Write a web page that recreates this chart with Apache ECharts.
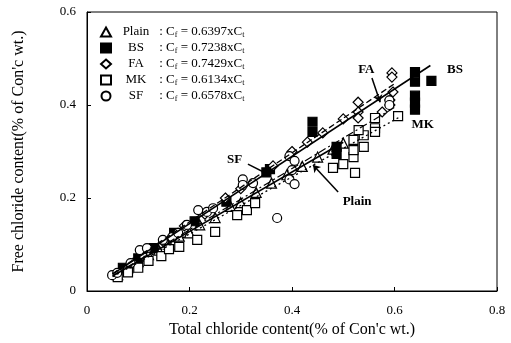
<!DOCTYPE html>
<html><head><meta charset="utf-8">
<script src="https://cdn.jsdelivr.net/npm/echarts@6/dist/echarts.min.js"></script>
<style>html,body{margin:0;padding:0;background:#fff}#c{width:511px;height:343px}</style>
</head><body><div id="c"></div>
<script>
const seriesNames = ['Plain', 'BS', 'FA', 'MK', 'SF'];
const coefs = [0.6397, 0.7238, 0.7429, 0.6134, 0.6578];
const fitRange = [[0.05, 0.5], [0.05, 0.67], [0.05, 0.6], [0.05, 0.61], [0.05, 0.6]];
const xTicks = [0, 0.2, 0.4, 0.6, 0.8];
const yTicks = [0, 0.2, 0.4, 0.6];

const plainData = [[0.06,0.035],[0.08,0.05],[0.1,0.063],[0.12,0.078],[0.14,0.088],[0.16,0.1],[0.18,0.118],[0.2,0.125],[0.22,0.142],[0.25,0.158],[0.28,0.182],[0.3,0.19],[0.33,0.212],[0.36,0.232],[0.39,0.25],[0.42,0.268],[0.45,0.288],[0.48,0.305],[0.5,0.318]];
const bsData = [[0.07,0.05],[0.1,0.07],[0.13,0.092],[0.17,0.125],[0.21,0.15],[0.272,0.192],[0.35,0.255],[0.357,0.262],[0.44,0.364],[0.44,0.342],[0.487,0.31],[0.487,0.295],[0.64,0.471],[0.64,0.45],[0.64,0.42],[0.64,0.405],[0.64,0.39],[0.672,0.452]];
const faData = [[0.055,0.032],[0.075,0.045],[0.09,0.06],[0.11,0.075],[0.15,0.105],[0.19,0.14],[0.23,0.165],[0.27,0.2],[0.3,0.22],[0.363,0.269],[0.4,0.3],[0.43,0.32],[0.46,0.34],[0.5,0.37],[0.529,0.406],[0.529,0.385],[0.529,0.372],[0.576,0.385],[0.591,0.411],[0.591,0.4],[0.597,0.428],[0.595,0.469],[0.595,0.46]];
const mkData = [[0.06,0.03],[0.08,0.04],[0.1,0.05],[0.12,0.065],[0.145,0.075],[0.16,0.09],[0.18,0.095],[0.215,0.11],[0.25,0.127],[0.293,0.163],[0.312,0.174],[0.328,0.189],[0.48,0.265],[0.5,0.273],[0.523,0.254],[0.52,0.288],[0.52,0.303],[0.54,0.31],[0.52,0.325],[0.54,0.335],[0.53,0.346],[0.562,0.372],[0.562,0.35],[0.562,0.342],[0.607,0.376]];
const sfData = [[0.049,0.034],[0.059,0.039],[0.085,0.06],[0.103,0.088],[0.117,0.092],[0.148,0.11],[0.166,0.116],[0.178,0.125],[0.195,0.142],[0.217,0.174],[0.234,0.17],[0.246,0.178],[0.304,0.24],[0.304,0.228],[0.324,0.232],[0.371,0.157],[0.395,0.29],[0.405,0.28],[0.395,0.24],[0.405,0.23],[0.4,0.26],[0.59,0.41],[0.59,0.4]];

const datasets = [plainData, bsData, faData, mkData, sfData];
const symbols = ['triangle', 'rect', 'diamond', 'rect', 'circle'];
const fills = ['#fff', '#000', '#fff', '#fff', '#fff'];
const sizes = [10, 9, 10, 9, 9];
const lineTypes = ['solid', 'solid', [6, 3], [2, 3], [8, 3, 2, 3]];
const lineWidths = [1.6, 1.6, 1.3, 1.3, 1.2];

const labels = [
  {text: 'FA', at: [0.545, 0.475], arrow: [[0.556, 0.458], [0.572, 0.406]]},
  {text: 'SF', at: [0.288, 0.282], arrow: [[0.314, 0.273], [0.357, 0.249]]},
  {text: 'Plain', at: [0.527, 0.192], arrow: [[0.49, 0.213], [0.441, 0.271]]},
  {text: 'BS', at: [0.718, 0.475], arrow: null},
  {text: 'MK', at: [0.655, 0.357], arrow: null}
];

const serif = '"Liberation Serif", "Times New Roman", serif';
const chart = echarts.init(document.getElementById('c'));
const series = [];
seriesNames.forEach((n, i) => {
  series.push({
    name: n, type: 'scatter', data: datasets[i], symbol: symbols[i], symbolSize: sizes[i],
    itemStyle: {color: fills[i], borderColor: '#000', borderWidth: 1.2, opacity: 1},
    z: 3
  });
});
seriesNames.forEach((n, i) => {
  const [a, b] = fitRange[i];
  series.push({
    name: n + ' fit', type: 'line', showSymbol: false, silent: true,
    data: [[a, coefs[i] * a], [b, coefs[i] * b]],
    lineStyle: {color: '#000', width: lineWidths[i], type: lineTypes[i]}, z: 4
  });
});
series.push({
  name: 'annot', type: 'scatter', data: [], silent: true,
  markPoint: {
    symbol: 'circle', symbolSize: 0,
    label: {show: true, color: '#000', fontFamily: serif, fontWeight: 'bold', fontSize: 13, formatter: p => p.name},
    data: labels.map(l => ({name: l.text, coord: l.at}))
  },
  markLine: {
    symbol: ['none', 'arrow'], symbolSize: 7, silent: true, label: {show: false},
    lineStyle: {color: '#000', width: 1.5, type: 'solid'},
    data: labels.filter(l => l.arrow).map(l => [{coord: l.arrow[0]}, {coord: l.arrow[1]}])
  },
  z: 5
});

chart.setOption({
  animation: false,
  backgroundColor: '#fff',
  grid: {left: 87, top: 12, width: 410, height: 279, show: true, borderColor: '#000', borderWidth: 1},
  legend: {
    data: seriesNames, orient: 'vertical', left: 95, top: 20, itemWidth: 10, itemHeight: 9, itemGap: 2,
    textStyle: {fontFamily: serif, fontSize: 13, color: '#000', lineHeight: 14,
      rich: {
        n: {fontFamily: serif, fontSize: 13, width: 40, align: 'center', color: '#000'},
        t: {fontFamily: serif, fontSize: 13, color: '#000'},
        s: {fontFamily: serif, fontSize: 8, color: '#000', verticalAlign: 'bottom', padding: [6, 0, 0, 0]}
      }},
    formatter: name => {
      const k = coefs[seriesNames.indexOf(name)];
      return `{n|${name}}{t| : C}{s|f}{t| = ${k.toFixed(4)}xC}{s|t}`;
    }
  },
  xAxis: {
    type: 'value', min: 0, max: 0.8, interval: 0.2,
    name: "Total chloride content(% of Con'c wt.)", nameLocation: 'middle', nameGap: 29,
    nameTextStyle: {fontFamily: serif, fontSize: 16, color: '#000'},
    axisLine: {show: true, lineStyle: {color: '#000', width: 1}},
    axisTick: {show: true, inside: true, length: 4, lineStyle: {color: '#000'}},
    axisLabel: {fontFamily: serif, fontSize: 13, color: '#000', margin: 13,
      formatter: v => (xTicks.includes(+v.toFixed(1)) ? (v === 0 ? '0' : v.toFixed(1)) : '')},
    splitLine: {show: false}
  },
  yAxis: {
    type: 'value', min: 0, max: 0.6, interval: 0.2,
    name: "Free chloride content(% of Con'c wt.)", nameLocation: 'middle', nameGap: 60,
    nameTextStyle: {fontFamily: serif, fontSize: 16, color: '#000'},
    axisLine: {show: true, lineStyle: {color: '#000', width: 1}},
    axisTick: {show: true, inside: true, length: 4, lineStyle: {color: '#000'}},
    axisLabel: {fontFamily: serif, fontSize: 13, color: '#000', margin: 11,
      formatter: v => (yTicks.includes(+v.toFixed(1)) ? (v === 0 ? '0' : v.toFixed(1)) : '')},
    splitLine: {show: false}
  },
  series: series
});
</script></body></html>
